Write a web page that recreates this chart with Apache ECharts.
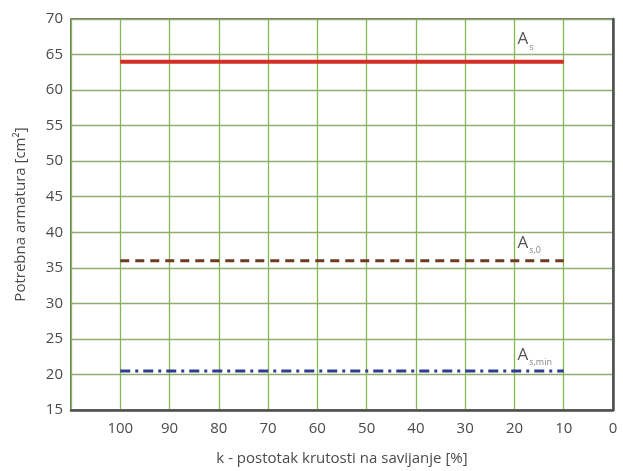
<!DOCTYPE html>
<html><head><meta charset="utf-8">
<script src="https://cdn.jsdelivr.net/npm/echarts@6/dist/echarts.min.js"></script>
<style>html,body{margin:0;padding:0;background:#fff}#c{width:623px;height:471px}</style>
</head><body><div id="c"></div>
<script>
const kValues = [100, 90, 80, 70, 60, 50, 40, 30, 20, 10];
const As = [64, 64, 64, 64, 64, 64, 64, 64, 64, 64];
const As0 = [36, 36, 36, 36, 36, 36, 36, 36, 36, 36];
const AsMin = [20.5, 20.5, 20.5, 20.5, 20.5, 20.5, 20.5, 20.5, 20.5, 20.5];
const seriesNames = ['A_s', 'A_s,0', 'A_s,min'];
const labelSubs = ['s', 's,0', 's,min'];
const labelAtK = 20;

const FONT = '"Open Sans", "DejaVu Sans", sans-serif';
function mk(vals, idx, color, type, width, dy) {
  const li = kValues.indexOf(labelAtK);
  return {
    name: seriesNames[idx], type: 'line', symbol: 'none', silent: true,
    lineStyle: { color: color, width: width, type: type },
    data: kValues.map((k, i) => [k, vals[i]]),
    markPoint: {
      silent: true, animation: false,
      symbol: 'circle', symbolSize: 1, itemStyle: { color: 'rgba(0,0,0,0)' },
      data: [{
        coord: [labelAtK, vals[li]],
        label: {
          show: true, position: 'inside', align: 'left', offset: [3, dy],
          formatter: '{a|A}{b|' + labelSubs[idx] + '}',
          rich: { a: { fontSize: 17, color: '#555', fontFamily: FONT },
                  b: { fontSize: 9, color: '#888', fontFamily: FONT, padding: [15, 0, 0, 1] } }
        }
      }]
    }
  };
}
const chart = echarts.init(document.getElementById('c'));
chart.setOption({
  animation: false,
  grid: { left: 71, right: 10, top: 19, bottom: 58, show: true, borderColor: '#707070', borderWidth: 2 },
  xAxis: {
    type: 'value', inverse: true, min: 0, max: 110, interval: 10,
    name: 'k - postotak krutosti na savijanje [%]', nameLocation: 'middle', nameGap: 41,
    nameTextStyle: { fontFamily: FONT, fontSize: 15, color: '#4a4a4a' },
    axisLine: { lineStyle: { color: '#505050', width: 2.5 } },
    axisTick: { show: false },
    axisLabel: { fontFamily: FONT, fontSize: 15, color: '#4a4a4a', margin: 11,
      formatter: v => v === 110 ? '' : String(v) },
    splitLine: { lineStyle: { color: '#84b756', width: 1.3 } }
  },
  yAxis: {
    type: 'value', min: 15, max: 70, interval: 5,
    name: 'Potrebna armatura [cm²]', nameLocation: 'middle', nameGap: 43,
    nameTextStyle: { fontFamily: FONT, fontSize: 15, color: '#4a4a4a' },
    axisLine: { lineStyle: { color: '#505050', width: 2.5 } },
    axisTick: { show: false },
    axisLabel: { fontFamily: FONT, fontSize: 15, color: '#4a4a4a', margin: 8 },
    splitLine: { lineStyle: { color: '#93ad70', width: 1.3 } }
  },
  series: [
    mk(As, 0, '#d42f27', 'solid', 4, -22),
    mk(As0, 1, '#6e3a20', [9, 6], 3, -18),
    mk(AsMin, 2, '#2e3d8f', [10, 5, 3, 5], 3, -16)
  ]
});
</script></body></html>
